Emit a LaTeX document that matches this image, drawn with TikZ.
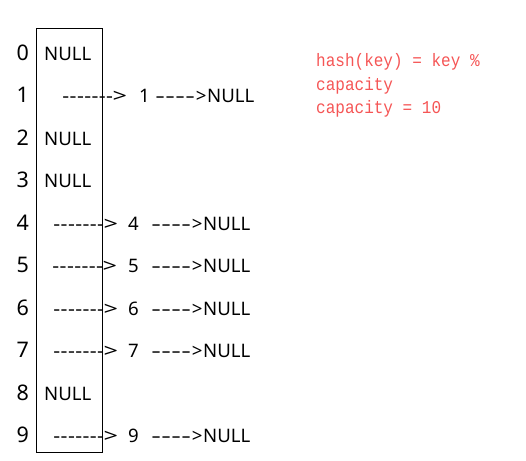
\documentclass[tikz,border=0pt]{standalone}
\usepackage{fontspec}
\usepackage{graphicx}
\setmainfont{Noto Sans}
\newfontfamily\redmono[FakeStretch=0.89]{Liberation Mono}
\definecolor{hashred}{RGB}{245,85,85}
\newcommand\hy{\makebox[7.3pt][c]{\scalebox{1.15}[1]{-}}}
\newcommand\hyw{\makebox[10pt][c]{\scalebox{1.6}[1]{-}}}
\newcommand\gt{\makebox[13pt][c]{\scalebox{1.35}[1]{>}}}
\newcommand\arr{\hy\hy\hy\hy\hy\hy\hy\gt}
\newcommand\tailnull{\hyw\hyw\hyw\hyw\makebox[12pt][c]{>}NULL}
\begin{document}
\begin{tikzpicture}[x=1pt,y=-1pt,
  every node/.style={inner sep=0pt, anchor=base west},
  idx/.style={font=\fontsize{21.5}{21.5}\selectfont},
  txt/.style={font=\fontsize{18.6}{18.6}\selectfont},
  note/.style={font=\redmono\fontsize{18}{18}\selectfont, text=hashred}]
\useasboundingbox (0,0) rectangle (526,460);
\node[draw, line width=0.8pt, minimum width=66pt, minimum height=424pt, anchor=north west] (table) at (36,28) {};
\foreach \i in {0,...,9} {
  \node[idx] (i\i) at (16.5,60+42.5*\i) {\i};
}
\foreach \i in {0,2,3,8} {
  \node[txt] (n\i) at (44,60+42.5*\i) {NULL};
}
\foreach \i/\ax/\kx/\tx in {1/62/139/155,4/53/128/151,5/52/128/151,6/53/128/151,7/53/128/151,9/53/128/151} {
  \node[txt] (a\i) at (\ax,60+42.5*\i) {\arr};
  \node[txt] (k\i) at (\kx,60+42.5*\i) {\i};
  \node[txt] (t\i) at (\tx,60+42.5*\i) {\tailnull};
}
\node[note] (h1) at (316,66) {hash(key) = key \%};
\node[note] (h2) at (316,90) {capacity};
\node[note] (h3) at (316,113) {capacity = 10};
\end{tikzpicture}
\end{document}
